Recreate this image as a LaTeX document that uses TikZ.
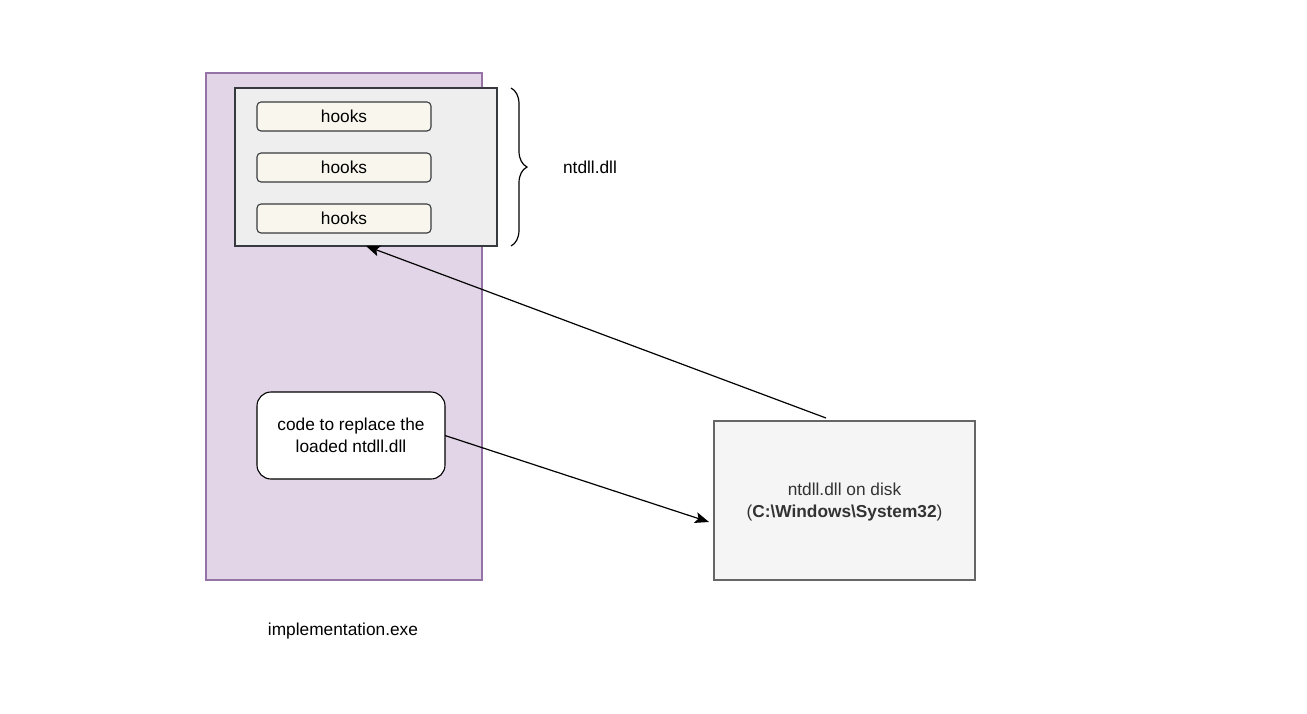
\documentclass[tikz,border=0pt]{standalone}
\usepackage{fontspec}
\setmainfont{Liberation Sans}
\usetikzlibrary{positioning,arrows.meta,decorations.pathreplacing}

\definecolor{exefill}{HTML}{E1D5E7}
\definecolor{exedraw}{HTML}{9673A6}
\definecolor{dllfill}{HTML}{EEEEEE}
\definecolor{dlldraw}{HTML}{36393D}
\definecolor{hookfill}{HTML}{F9F7ED}
\definecolor{diskfill}{HTML}{F5F5F5}
\definecolor{diskdraw}{HTML}{666666}
\definecolor{disktext}{HTML}{333333}

\begin{document}
\begin{tikzpicture}[
  x=1pt, y=-1pt,
  node distance=22pt and 1cm,
  font=\fontsize{17.3}{22}\selectfont,
  box/.style={inner sep=0pt,outer sep=0pt,line width=1.1pt},
  exe/.style={box,draw=exedraw,fill=exefill,minimum width=276pt,minimum height=507pt},
  dll/.style={box,draw=dlldraw,fill=dllfill,minimum width=262pt,minimum height=158pt},
  hook/.style={box,draw=dlldraw,fill=hookfill,rounded corners=4pt,minimum width=174pt,minimum height=29pt},
  code/.style={box,draw=black,fill=white,rounded corners=14pt,minimum width=188pt,minimum height=87pt,align=center},
  disk/.style={box,draw=diskdraw,fill=diskfill,text=disktext,minimum width=261pt,minimum height=159pt,align=center},
  link/.style={line width=1.2pt,-{Stealth[length=14pt,width=11pt,inset=3pt]}}
]
\useasboundingbox (0,0) rectangle (1307,713);

\node[exe] (exe) at (344,326.5) {};
\node[dll] (dll) at (366,167) {};

\node[hook] (hook0) at (344,116.5) {hooks};
\node[hook,below=of hook0] (hook1) {hooks};
\node[hook,below=of hook1] (hook2) {hooks};

\node[code] (code) at (351,435.5) {code to replace the\\loaded ntdll.dll};
\node[disk] (disk) at (844.5,500.5) {};
\node[text=disktext,align=center] (disktxt) at (844.5,502) {ntdll.dll on disk\\(\textbf{C:\textbackslash Windows\textbackslash System32})};

\node (dllname) at (590,167) {ntdll.dll};
\node (exename) at (343,631) {implementation.exe};

\coordinate (brtop) at (511,88);
\coordinate (brbot) at (511,246);
\coordinate (diskout) at (826,418);
\coordinate (diskin) at (709,522);

% brace
\draw[line width=1.2pt,decorate,decoration={brace,amplitude=16pt}] (brtop) -- (brbot);

% arrows
\draw[link] (diskout) -- (dll.south);
\draw[link] (code.east) -- (diskin);

\end{tikzpicture}
\end{document}
